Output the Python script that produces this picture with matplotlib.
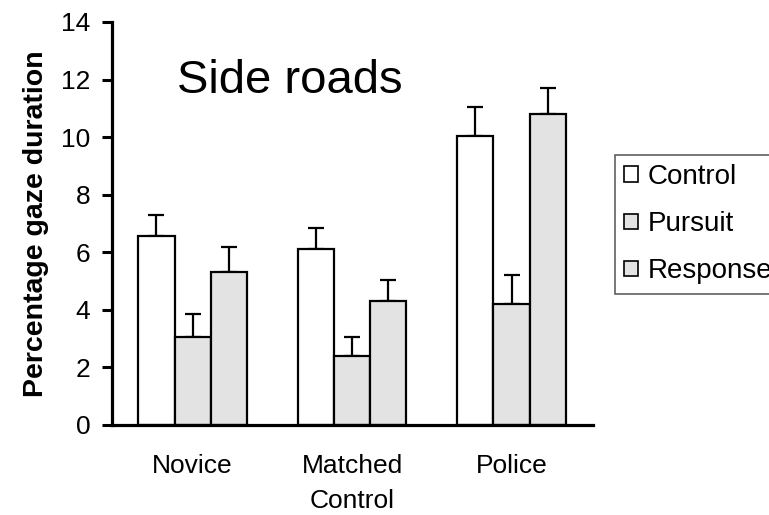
import matplotlib
matplotlib.use("Agg")
import matplotlib.pyplot as plt
import numpy as np

plt.rcParams['font.family'] = ['Liberation Sans', 'DejaVu Sans']

groups = ["Novice", "Matched\nControl", "Police"]
series = ["Control", "Pursuit", "Response"]
means = {
    "Control": [6.55, 6.1, 10.05],
    "Pursuit": [3.05, 2.4, 4.2],
    "Response": [5.33, 4.3, 10.8],
}
errs = {
    "Control": [0.73, 0.73, 1.0],
    "Pursuit": [0.8, 0.65, 1.0],
    "Response": [0.84, 0.72, 0.9],
}
colors = {"Control": "white", "Pursuit": "#e3e3e3", "Response": "#e3e3e3"}

fig = plt.figure(figsize=(7.69, 5.15), dpi=100)
ax = fig.add_axes([112/769, 1-425/515, (593-112)/769, (425-22)/515])

x = np.arange(len(groups))
w = 0.226
for i, s in enumerate(series):
    pos = x + (i - 1) * w
    ax.bar(pos, means[s], width=w, color=colors[s], edgecolor="black",
           linewidth=1.6, label=s, zorder=2)
    ax.errorbar(pos, means[s], yerr=[np.zeros(len(groups)), errs[s]], fmt="none",
                ecolor="black", elinewidth=1.6, capsize=6, capthick=1.6, zorder=1)

ax.set_xlim(-0.505, 2.511)
ax.set_ylim(0, 14)
ax.set_yticks(range(0, 15, 2))
ax.set_xticks(x)
ax.set_xticklabels(groups, fontsize=19, linespacing=1.55)
ax.tick_params(axis="y", labelsize=19, width=2.2, length=7.5, direction="out", pad=8)
ax.tick_params(axis="x", length=0, pad=21)

for side in ["top", "right"]:
    ax.spines[side].set_visible(False)
for side in ["left", "bottom"]:
    ax.spines[side].set_linewidth(2.3)

ax.set_ylabel("Percentage gaze duration", fontsize=20.5, fontweight="bold")
ax.yaxis.set_label_coords(-0.131, 0.5)

fig.text(177/769, 1-93/515, "Side roads", fontsize=34, va="baseline", ha="left")

# legend sits partly outside the figure, as in the original
leg = ax.legend(loc="upper left", bbox_to_anchor=(615/769, 1-155/515),
                bbox_transform=fig.transFigure, borderaxespad=0,
                fontsize=20, handlelength=0.5, handleheight=0.5,
                handletextpad=0.35, labelspacing=0.76, borderpad=0.33,
                fancybox=False, framealpha=1)
leg.get_frame().set_edgecolor("#606060")
leg.get_frame().set_linewidth(1.2)
for h in leg.legend_handles:
    h.set_linewidth(1.2)

fig.savefig("out.png", dpi=100)
